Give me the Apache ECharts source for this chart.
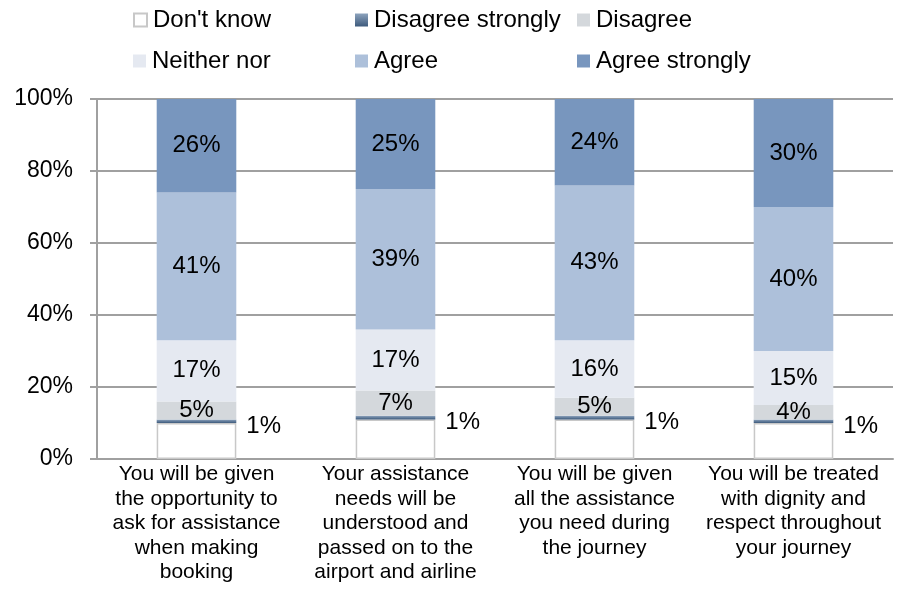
<!DOCTYPE html>
<html>
<head>
<meta charset="utf-8">
<script src="https://cdn.jsdelivr.net/npm/echarts@6/dist/echarts.min.js"></script>
<style>
  html, body { margin: 0; padding: 0; background: #fff; }
  #chart { width: 903px; height: 589px; }
</style>
</head>
<body>
<div id="chart"></div>
<script>
// Survey statements (x-axis categories, wrapped as printed)
const categories = [
  'You will be given\nthe opportunity to\nask for assistance\nwhen making\nbooking',
  'Your assistance\nneeds will be\nunderstood and\npassed on to the\nairport and airline',
  'You will be given\nall the assistance\nyou need during\nthe journey',
  'You will be treated\nwith dignity and\nrespect throughout\nyour journey'
];

// Share of responses (%) per answer, bottom of the stack first
const dontKnow        = [10, 11, 11, 10];
const disagreeStrong  = [1, 1, 1, 1];
const disagree        = [5, 7, 5, 4];
const neitherNor      = [17, 17, 16, 15];
const agree           = [41, 39, 43, 40];
const agreeStrong     = [26, 25, 24, 30];

// Y-axis ticks
const yTicks = [0, 20, 40, 60, 80, 100];

const FONT = 'Liberation Sans, Arial, sans-serif';

const darkGrad = new echarts.graphic.LinearGradient(0, 0, 0, 1, [
  { offset: 0, color: '#8da3bd' },
  { offset: 1, color: '#3d5a7c' }
]);

const seriesDefs = [
  { name: "Don't know", data: dontKnow, color: '#ffffff', border: '#c8c8c8', label: false },
  { name: 'Disagree strongly', data: disagreeStrong, color: darkGrad, label: 'side' },
  { name: 'Disagree', data: disagree, color: '#d4d8dc', label: true },
  { name: 'Neither nor', data: neitherNor, color: '#e5e9f1', label: true },
  { name: 'Agree', data: agree, color: '#adc0da', label: true },
  { name: 'Agree strongly', data: agreeStrong, color: '#7896be', label: true }
];

const series = seriesDefs.map(function (d) {
  let label;
  if (d.label === 'side') {
    label = {
      show: true, position: 'right', distance: 10, offset: [0, 5],
      formatter: '{c}%', fontSize: 24, fontFamily: FONT, color: '#000'
    };
  } else if (d.label) {
    label = {
      show: true, position: 'inside',
      formatter: '{c}%', fontSize: 24, fontFamily: FONT, color: '#000'
    };
  } else {
    label = { show: false };
  }
  return {
    name: d.name,
    type: 'bar',
    stack: 'total',
    barWidth: '40%',
    data: d.data,
    label: label,
    itemStyle: d.border
      ? { color: d.color, borderColor: d.border, borderWidth: 1.5 }
      : { color: d.color },
    emphasis: { disabled: true }
  };
});

// Legend laid out as a 3-column, 2-row block
const legendSlots = [
  { name: "Don't know", left: 133, top: 8 },
  { name: 'Disagree strongly', left: 355, top: 8 },
  { name: 'Disagree', left: 577, top: 8 },
  { name: 'Neither nor', left: 133, top: 49 },
  { name: 'Agree', left: 355, top: 49 },
  { name: 'Agree strongly', left: 577, top: 49 }
];

const legends = legendSlots.map(function (s) {
  return {
    data: [s.name],
    left: s.left,
    top: s.top,
    padding: 0,
    itemWidth: 13,
    itemHeight: 13,
    itemGap: 0,
    selectedMode: false,
    icon: 'rect',
    textStyle: { fontSize: 24, fontFamily: FONT, color: '#000', padding: [0, 0, 0, 1] }
  };
});

const chart = echarts.init(document.getElementById('chart'), null, { renderer: 'canvas' });
chart.setOption({
  animation: false,
  backgroundColor: '#ffffff',
  legend: legends,
  grid: { left: 97, right: 10, top: 99, bottom: 130, containLabel: false },
  xAxis: {
    type: 'category',
    data: categories,
    axisLine: { show: true, lineStyle: { color: '#a0a0a0', width: 2 } },
    axisTick: { show: false },
    axisLabel: {
      interval: 0, fontSize: 21, fontFamily: FONT, color: '#000',
      lineHeight: 24.5, margin: 3, align: 'center', verticalAlign: 'top'
    }
  },
  yAxis: {
    type: 'value',
    min: yTicks[0],
    max: yTicks[yTicks.length - 1],
    interval: yTicks[1] - yTicks[0],
    axisLine: { show: true, lineStyle: { color: '#a0a0a0', width: 2 } },
    axisTick: { show: true, inside: false, length: 7, lineStyle: { color: '#a0a0a0', width: 2 } },
    splitLine: { show: true, lineStyle: { color: '#a0a0a0', width: 2 } },
    axisLabel: {
      formatter: '{value}%', fontSize: 23, fontFamily: FONT, color: '#000', margin: 24
    }
  },
  series: series
});
</script>
</body>
</html>
